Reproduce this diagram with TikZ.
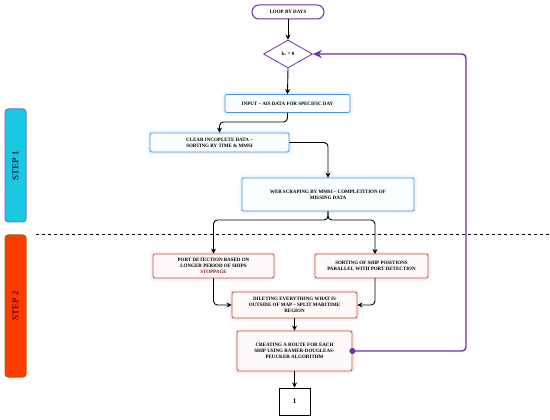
\documentclass[tikz,border=0pt]{standalone}
\usepackage{fontspec}
\setmainfont{Liberation Serif}
\usetikzlibrary{shapes.geometric,arrows.meta,calc}
\definecolor{purp}{RGB}{112,48,160}
\definecolor{blueB}{RGB}{90,140,220}
\definecolor{redB}{RGB}{175,90,50}
\definecolor{redF}{RGB}{255,249,249}
\definecolor{blueF}{RGB}{250,254,255}
\definecolor{stepA}{RGB}{25,200,225}
\definecolor{stepAB}{RGB}{110,120,215}
\definecolor{stepB}{RGB}{255,60,0}
\definecolor{stepBB}{RGB}{150,105,20}
\definecolor{stepBT}{RGB}{120,0,10}
\definecolor{stepAT}{RGB}{10,40,70}
\definecolor{maroon}{RGB}{140,20,40}
\begin{document}
\begin{tikzpicture}[x=1pt,y=-1pt,
  txt/.style={font=\fontsize{5}{6}\selectfont\bfseries, align=center, inner sep=1pt},
  bluebox/.style={txt, draw=blueB, line width=0.8pt, rounded corners=2pt, fill=blueF,
     preaction={draw=cyan!10, line width=5pt}},
  redbox/.style={txt, draw=redB, line width=0.8pt, rounded corners=2pt, fill=redF,
     preaction={draw=magenta!8, line width=5pt}},
  pill/.style={txt, draw=purp, line width=1pt, rounded corners=7pt, fill=white},
  decision/.style={txt, diamond, draw=purp, line width=0.8pt, fill=white, aspect=1.75, inner sep=0pt},
  endbox/.style={font=\fontsize{7}{8}\selectfont\bfseries, draw=black, line width=1pt, fill=white, inner sep=0pt},
  stepbar/.style={font=\fontsize{9}{10}\selectfont\bfseries, rotate=90, line width=1pt, rounded corners=3pt, inner sep=0pt},
  arr/.style={draw=black, line width=0.9pt, -{Stealth[length=5pt,width=5pt]}, rounded corners=4pt},
  parr/.style={draw=purp, line width=1.4pt, -{Stealth[length=9pt,width=8pt]}, rounded corners=4pt},
  dotp/.style={circle, fill=purp, inner sep=0pt, minimum size=6pt},
  sep/.style={draw=black, line width=0.8pt, dashed}
]
\useasboundingbox (0,0) rectangle (550,420);

% step bars
\node[stepbar, draw=stepAB, fill=stepA, text=stepAT, minimum width=113pt, minimum height=21pt] (s1) at (15.5,165.5) {STEP 1};
\node[stepbar, draw=stepBB, fill=stepB, text=stepBT, minimum width=142pt, minimum height=21pt] (s2) at (15.5,306) {STEP 2};

% separator
\coordinate (dl) at (36,234);
\coordinate (dr) at (550,234);
\draw[sep] (dl) -- (dr);

% nodes
\node[pill, minimum width=72pt, minimum height=14pt] (loop) at (288,12) {LOOP BY DAYS};
\node[decision, minimum width=49pt, minimum height=28pt] (dia) at (288,54) {k: = 0};
\node[bluebox, minimum width=125pt, minimum height=18pt] (input) at (287.5,103.5) {INPUT -- AIS DATA FOR SPECIFIC DAY};
\node[bluebox, minimum width=139pt, minimum height=19pt] (clear) at (219.5,142.5) {CLEAR INCOPLETE DATA --\\SORTING BY TIME \& MMSI};
\node[bluebox, minimum width=172pt, minimum height=33pt] (web) at (328,194.5) {WEB SCRAPING BY MMSI -- COMPLETITION OF\\MISSING DATA};
\node[redbox, minimum width=121pt, minimum height=24pt] (port) at (213.5,266) {PORT DETECTION BASED ON\\LONGER PERIOD OF SHIPS\\\textcolor{maroon}{STOPPAGE}};
\node[redbox, minimum width=113pt, minimum height=24pt] (sort) at (371.5,266) {SORTING OF SHIP POSITIONS\\PARALLEL WITH PORT DETECTION};
\node[redbox, minimum width=125pt, minimum height=26pt] (dil) at (294.5,305) {DILETING EVERYTHING WHAT IS\\OUTSIDE OF MAP -- SPLIT MARITIME\\REGION};
\node[redbox, minimum width=115pt, minimum height=40pt] (route) at (294.5,351) {CREATING A ROUTE FOR EACH\\SHIP USING RAMER-DOUGLEAS-\\PEUCKER ALGORITHM};
\node[endbox, minimum width=31pt, minimum height=27pt] (one) at (294.5,401.5) {1};

% helper coordinates
\coordinate (y1) at (0,122);
\coordinate (y2) at (0,220);
\coordinate (sortin) at (375,254);
\coordinate (sortout) at (375,278);
\coordinate (rx) at (466,0);

% connectors
\draw[arr] (loop.south) -- (dia.north);
\draw[arr] (dia.south) -- (input.north);
\draw[arr] (input.south) -- (input.south |- y1) -- (clear.north |- y1) -- (clear.north);
\draw[arr] (clear.east) -| (web.north);
\draw[arr] (web.south) -- (web.south |- y2) -| (port.north);
\draw[arr] (web.south) -- (web.south |- y2) -| (sortin);
\draw[arr] (port.south) |- (dil.west);
\draw[arr] (sortout) |- (dil.east);
\draw[arr] (dil.south) -- (route.north);
\draw[arr] (route.south) -- (one.north);
\draw[parr] (route.east) -- (rx |- route.east) -- (rx |- dia.east) -- (dia.east);
\node[dotp] (dot) at (route.east) {};
\end{tikzpicture}
\end{document}
